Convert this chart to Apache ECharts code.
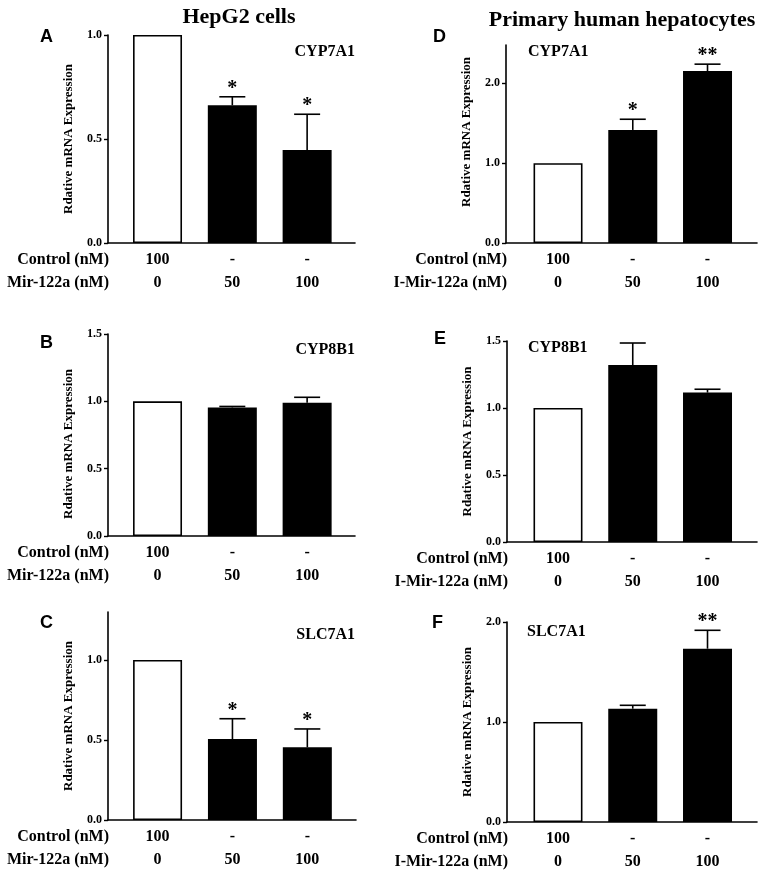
<!DOCTYPE html>
<html>
<head>
<meta charset="utf-8">
<script src="https://cdn.jsdelivr.net/npm/echarts@6/dist/echarts.min.js"></script>
<style>html,body{margin:0;padding:0;background:#fff}#c{width:758px;height:876px}</style>
</head>
<body>
<div id="c"></div>
<script>
// ---- data ----
const hepRowLabels = ['Control (nM)', 'Mir-122a (nM)'];
const phhRowLabels = ['Control (nM)', 'I-Mir-122a (nM)'];
const controlDose = ['100', '-', '-'];
const mirDose = ['0', '50', '100'];
const groupIndex = [0, 1, 2];

const hepCyp7a1 = [1.0, 0.662, 0.447];
const hepCyp7a1Err = [null, 0.703, 0.619];
const hepCyp7a1Sig = ['', '*', '*'];

const hepCyp8b1 = [1.0, 0.955, 0.99];
const hepCyp8b1Err = [null, 0.962, 1.03];
const hepCyp8b1Sig = ['', '', ''];

const hepSlc7a1 = [1.0, 0.506, 0.454];
const hepSlc7a1Err = [null, 0.633, 0.569];
const hepSlc7a1Sig = ['', '*', '*'];

const phhCyp7a1 = [1.0, 1.416, 2.154];
const phhCyp7a1Err = [null, 1.55, 2.24];
const phhCyp7a1Sig = ['', '*', '**'];

const phhCyp8b1 = [1.0, 1.32, 1.115];
const phhCyp8b1Err = [null, 1.485, 1.14];
const phhCyp8b1Sig = ['', '', ''];

const phhSlc7a1 = [1.0, 1.133, 1.733];
const phhSlc7a1Err = [null, 1.167, 1.917];
const phhSlc7a1Sig = ['', '', '**'];

const ticksHalf = [0, 0.5, 1.0];
const ticksHalf15 = [0, 0.5, 1.0, 1.5];
const ticksOne = [0, 1.0, 2.0];

const yName = 'Rdative mRNA Expression';
const titles = ['HepG2 cells', 'Primary human hepatocytes'];

// ---- layout ----
const SERIF = '"Liberation Serif","Times New Roman",serif';
const SANS = '"Liberation Sans",Arial,sans-serif';

const panels = [
  {letter:'A', gene:'CYP7A1', vals:hepCyp7a1, err:hepCyp7a1Err, sig:hepCyp7a1Sig, rows:hepRowLabels, ticks:ticksHalf, ymax:1.0,
   grid:{left:108, top:35, width:247, height:208}, xmin:-0.662, xmax:2.64, letterPos:[40,28], genePos:[355,52,'right'], namePad:null},
  {letter:'B', gene:'CYP8B1', vals:hepCyp8b1, err:hepCyp8b1Err, sig:hepCyp8b1Sig, rows:hepRowLabels, ticks:ticksHalf15, ymax:1.5,
   grid:{left:108, top:334, width:247, height:202}, xmin:-0.662, xmax:2.64, letterPos:[40,334], genePos:[355,350,'right'], namePad:[0,18,0,0]},
  {letter:'C', gene:'SLC7A1', vals:hepSlc7a1, err:hepSlc7a1Err, sig:hepSlc7a1Sig, rows:hepRowLabels, ticks:ticksHalf, ymax:1.3,
   grid:{left:108, top:612, width:248, height:208}, xmin:-0.662, xmax:2.65, letterPos:[40,614], genePos:[355,635,'right'], namePad:null},
  {letter:'D', gene:'CYP7A1', vals:phhCyp7a1, err:phhCyp7a1Err, sig:phhCyp7a1Sig, rows:phhRowLabels, ticks:ticksOne, ymax:2.48,
   grid:{left:506, top:45, width:251, height:198}, xmin:-0.696, xmax:2.662, letterPos:[433,28], genePos:[528,52,'left'], namePad:[0,0,0,24]},
  {letter:'E', gene:'CYP8B1', vals:phhCyp8b1, err:phhCyp8b1Err, sig:phhCyp8b1Sig, rows:phhRowLabels, ticks:ticksHalf15, ymax:1.5,
   grid:{left:507, top:341, width:250, height:201}, xmin:-0.682, xmax:2.662, letterPos:[434,330], genePos:[528,348,'left'], namePad:null},
  {letter:'F', gene:'SLC7A1', vals:phhSlc7a1, err:phhSlc7a1Err, sig:phhSlc7a1Sig, rows:phhRowLabels, ticks:ticksOne, ymax:2.0,
   grid:{left:507, top:622, width:250, height:200}, xmin:-0.682, xmax:2.662, letterPos:[432,614], genePos:[527,632,'left'], namePad:null}
];

const grids = [], xAxes = [], yAxes = [], series = [], graphics = [];

panels.forEach((p, i) => {
  grids.push(p.grid);
  xAxes.push({
    type:'value', gridIndex:i, min:p.xmin, max:p.xmax,
    axisLine:{show:true, onZero:false, lineStyle:{color:'#000', width:1.6}},
    axisTick:{show:false}, splitLine:{show:false},
    axisLabel:{
      show:true, customValues:groupIndex, margin:5,
      formatter:(v) => { const k = Math.round(v); return controlDose[k] + '\n' + mirDose[k]; },
      fontFamily:SERIF, fontWeight:'bold', fontSize:16, color:'#000', lineHeight:23
    }
  });
  const yAx = {
    type:'value', gridIndex:i, min:0, max:p.ymax,
    axisLine:{show:true, onZero:false, lineStyle:{color:'#000', width:1.6}},
    axisTick:{show:true, length:4, customValues:p.ticks, lineStyle:{color:'#000', width:1.4}},
    splitLine:{show:false},
    axisLabel:{customValues:p.ticks, formatter:(v)=>v.toFixed(1), margin:6,
      fontFamily:SERIF, fontWeight:'bold', fontSize:12, color:'#000'},
    name:yName, nameLocation:'middle', nameRotate:90, nameGap:33,
    nameTextStyle:{fontFamily:SERIF, fontWeight:'bold', fontSize:13, color:'#000'}
  };
  if (p.namePad) yAx.nameTextStyle.padding = p.namePad;
  yAxes.push(yAx);

  series.push({
    type:'bar', xAxisIndex:i, yAxisIndex:i, barWidth:49, silent:true,
    data: p.vals.map((v, k) => ({
      value:[groupIndex[k], v],
      itemStyle: k === 0 ? {color:'#fff', borderColor:'#000', borderWidth:1.6} : {color:'#000'}
    }))
  });
  series.push({
    type:'custom', xAxisIndex:i, yAxisIndex:i, silent:true, z:5,
    data: p.vals.map((v, k) => [groupIndex[k], v, p.err[k] == null ? v : p.err[k]]),
    renderItem:(params, api) => {
      const k = params.dataIndex;
      const base = api.coord([api.value(0), api.value(1)]);
      const top = api.coord([api.value(0), api.value(2)]);
      const children = [];
      if (p.err[k] != null) {
        children.push({type:'line', shape:{x1:base[0], y1:base[1], x2:top[0], y2:top[1]}, style:{stroke:'#000', lineWidth:1.6}});
        children.push({type:'line', shape:{x1:top[0]-13, y1:top[1], x2:top[0]+13, y2:top[1]}, style:{stroke:'#000', lineWidth:1.6}});
      }
      if (p.sig[k]) {
        children.push({type:'text', x:top[0], y:top[1]+2, style:{text:p.sig[k], fill:'#000', font:'bold 20px ' + SERIF, align:'center', verticalAlign:'bottom'}});
      }
      return {type:'group', children};
    }
  });

  graphics.push({type:'text', left:p.letterPos[0], top:p.letterPos[1],
    style:{text:p.letter, font:'bold 18px ' + SANS, fill:'#000'}});
  graphics.push({type:'text', x:p.genePos[0], y:p.genePos[1],
    style:{text:p.gene, font:'bold 16px ' + SERIF, fill:'#000', align:p.genePos[2], verticalAlign:'middle'}});
  const bottom = p.grid.top + p.grid.height;
  const rx = p.grid.left + 1;
  graphics.push({type:'text', x:rx, y:bottom + 17,
    style:{text:p.rows[0], font:'bold 16px ' + SERIF, fill:'#000', align:'right', verticalAlign:'middle'}});
  graphics.push({type:'text', x:rx, y:bottom + 40,
    style:{text:p.rows[1], font:'bold 16px ' + SERIF, fill:'#000', align:'right', verticalAlign:'middle'}});
});

const chart = echarts.init(document.getElementById('c'), null, {renderer:'canvas'});
chart.setOption({
  animation:false,
  backgroundColor:'#fff',
  title:[
    {text:titles[0], left:234, top:1, textAlign:'center', textStyle:{fontFamily:SERIF, fontWeight:'bold', fontSize:22, color:'#000'}},
    {text:titles[1], left:617, top:4, textAlign:'center', textStyle:{fontFamily:SERIF, fontWeight:'bold', fontSize:22, color:'#000'}}
  ],
  grid:grids, xAxis:xAxes, yAxis:yAxes, series:series, graphic:graphics
});
</script>
</body>
</html>
